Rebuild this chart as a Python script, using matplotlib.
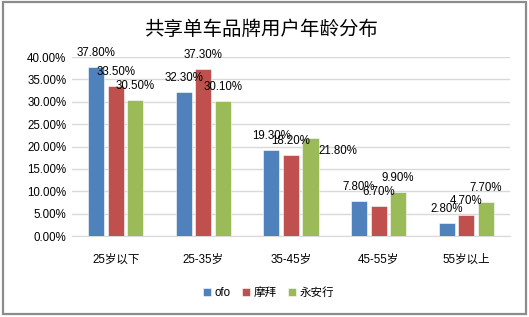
import numpy as np
import matplotlib
matplotlib.use("Agg")
import matplotlib.pyplot as plt
from matplotlib.patches import Rectangle

plt.rcParams['font.family'] = ['Liberation Sans', 'Noto Sans CJK SC', 'DejaVu Sans']

title = "共享单车品牌用户年龄分布"
categories = ["25岁以下", "25-35岁", "35-45岁", "45-55岁", "55岁以上"]
brands = ["ofo", "摩拜", "永安行"]
ofo = [37.8, 32.3, 19.3, 7.8, 2.8]
mobike = [33.5, 37.3, 18.2, 6.7, 4.7]
yongan = [30.5, 30.1, 21.8, 9.9, 7.7]
yticks = [0, 5, 10, 15, 20, 25, 30, 35, 40]

series = [ofo, mobike, yongan]
colors = ['#4F81BD', '#C0504D', '#9BBB59']

fig = plt.figure(figsize=(5.29, 3.17), dpi=100)
ax = fig.add_axes([0.136, 0.2555, 0.828, 0.5645])

x = np.arange(len(categories))
w = 0.183
step = 0.223
for i, (vals, c, name) in enumerate(zip(series, colors, brands)):
    pos = x + (i - 1) * step
    ax.bar(pos, vals, width=w, color=c, edgecolor='white', linewidth=0.4, label=name, zorder=3)
    for j, (p, v) in enumerate(zip(pos, vals)):
        dx, dy = 0, 14
        if i == 2 and j == 2:
            dx, dy = 27, -13  # excel moved this one aside
        ax.annotate("%.2f%%" % v, (p, v), xytext=(dx, dy), textcoords='offset pixels',
                    ha='center', va='center', fontsize=8.3, color='#000000', zorder=4)

ax.set_xlim(-0.5, len(categories) - 0.5)
ax.set_ylim(0, 40)
ax.set_yticks(yticks)
ax.set_yticklabels(["%.2f%%" % t for t in yticks], fontsize=8.3)
ax.set_xticks(x)
ax.set_xticklabels(categories, fontsize=8.3)
ax.tick_params(length=0, pad=4)
ax.tick_params(axis='x', pad=13)
ax.grid(axis='y', color='#d9d9d9', linewidth=1, zorder=0)
for s in ['top', 'right', 'left']:
    ax.spines[s].set_visible(False)
ax.spines['bottom'].set_color('#d9d9d9')

fig.text(0.493, 0.905, title, ha='center', va='center', fontsize=14, color='#000000')

fig.legend(loc='center', bbox_to_anchor=(0.507, 0.075), ncol=3, frameon=False, fontsize=8.3,
           handlelength=0.7, handleheight=0.7, handletextpad=0.3, columnspacing=1.0)

fig.patches.append(Rectangle((0.006, 0.009), 0.988, 0.984, transform=fig.transFigure,
                             fill=False, edgecolor='#8c8c8c', linewidth=1.6))

fig.savefig("out.png", dpi=100)
